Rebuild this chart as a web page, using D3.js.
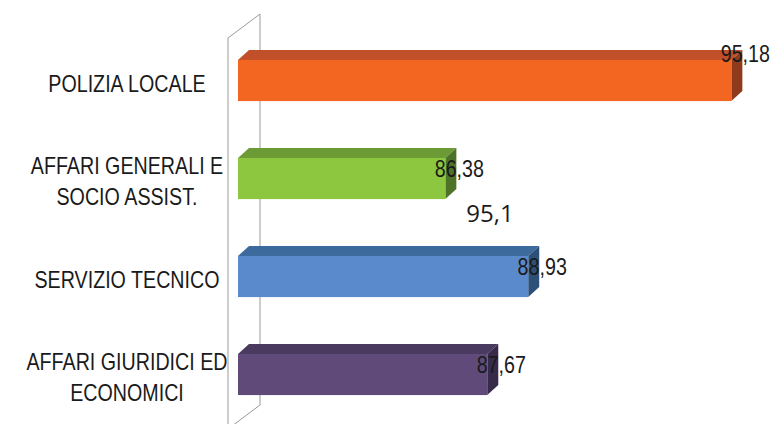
<!DOCTYPE html>
<html>
<head>
<meta charset="utf-8">
<script src="https://cdn.jsdelivr.net/npm/d3@7"></script>
<style>
  html, body { margin: 0; padding: 0; background: #fff; }
  svg { display: block; }
</style>
</head>
<body>
<svg id="chart" width="771" height="424"></svg>
<script>
// ---- data ----
const categories = [
  ["POLIZIA LOCALE"],
  ["AFFARI GENERALI E", "SOCIO ASSIST."],
  ["SERVIZIO TECNICO"],
  ["AFFARI GIURIDICI ED", "ECONOMICI"]
];
const values = [95.18, 86.38, 88.93, 87.67];
const valueLabels = ["95,18", "86,38", "88,93", "87,67"];
const axisDomain = [80, 96];
const strayLabel = "95,1";

// ---- styles ----
const frontColors = ["#F36621", "#8DC63F", "#5A8ACB", "#5F4A7A"];
const topColors   = ["#C1502A", "#6C9A35", "#3D6A9C", "#4A3A60"];
const sideColors  = ["#8F3A1C", "#4E7328", "#2D5079", "#372B49"];
const font = "'Liberation Sans', Arial, sans-serif";
const squeeze = 0.82;   // emulate a narrow face

const svg = d3.select("#chart");
const keys = categories.map(c => c.join(" "));

const x = d3.scaleLinear().domain(axisDomain).range([238, 758]);
const y = d3.scaleBand().domain(keys).range([31.5, 423.5])
  .paddingInner(0.58).paddingOuter(0.29);

const dx = 11, dy = -10;          // bar depth
const wdx = 32, wdy = -24;        // wall depth

function narrowText(px, py, t, size) {
  return svg.append("text")
    .attr("transform", `translate(${px},${py}) scale(${squeeze},1)`)
    .attr("text-anchor", "middle")
    .attr("font-family", font)
    .attr("font-size", size)
    .attr("fill", "#1a1a1a")
    .text(t);
}

// ---- wall (left side plane) ----
const wallX = 228, wallTop = 38, wallBottom = 430;
svg.append("path")
  .attr("d", `M${wallX},${wallBottom} L${wallX},${wallTop} L${wallX + wdx},${wallTop + wdy} L${wallX + wdx},${wallBottom + wdy - 1} L${wallX},${wallBottom - 1}`)
  .attr("fill", "none")
  .attr("stroke", "#9a9a9a")
  .attr("stroke-width", 1);

// ---- bars ----
const data = keys.map((k, i) => ({ k, i, v: values[i], lines: categories[i], lab: valueLabels[i] }));
const x0 = x(axisDomain[0]);
const maxV = d3.max(values);

const g = svg.append("g");
data.forEach(d => {
  const xe = x(d.v), yt = y(d.k), h = y.bandwidth();
  g.append("path")
    .attr("d", `M${x0},${yt} L${x0 + dx},${yt + dy} L${xe + dx},${yt + dy} L${xe},${yt} Z`)
    .attr("fill", topColors[d.i]);
  g.append("path")
    .attr("d", `M${xe},${yt} L${xe + dx},${yt + dy} L${xe + dx},${yt + h + dy} L${xe},${yt + h} Z`)
    .attr("fill", sideColors[d.i]);
  g.append("rect")
    .attr("x", x0).attr("y", yt)
    .attr("width", xe - x0).attr("height", h)
    .attr("fill", frontColors[d.i]);
});

// ---- category labels ----
const lineH = 31;
data.forEach(d => {
  const cy = y(d.k) + y.bandwidth() / 2;
  const n = d.lines.length;
  d.lines.forEach((t, j) => {
    narrowText(127, cy + 11 + (j - (n - 1) / 2) * lineH, t, 24);
  });
});

// ---- value labels ----
data.forEach(d => {
  const yt = y(d.k);
  const base = d.v === maxV ? yt + 2 : yt + 19.5;
  narrowText(x(d.v) + 14, base, d.lab, 24);
});

// ---- stray annotation ----
svg.append("text")
  .attr("x", 490)
  .attr("y", 222)
  .attr("text-anchor", "middle")
  .attr("font-family", "'Open Sans', sans-serif")
  .attr("font-size", 24)
  .attr("fill", "#1a1a1a")
  .text(strayLabel);
</script>
</body>
</html>
